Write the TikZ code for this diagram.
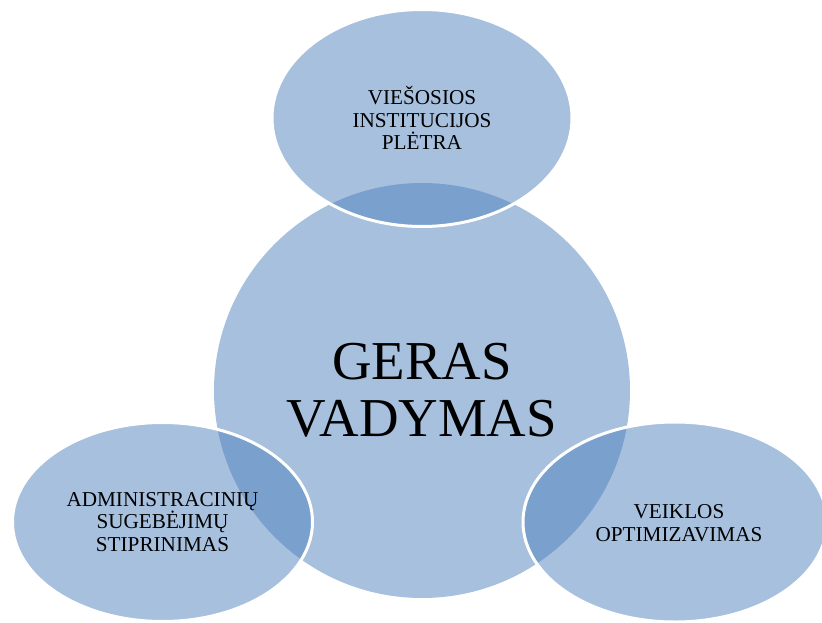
\documentclass[tikz,border=0pt]{standalone}
\usepackage{fontspec}
\setmainfont{Liberation Serif}
\usetikzlibrary{shapes.geometric}
\definecolor{accent}{HTML}{4F81BD}
\tikzset{
  bubble/.style={ellipse, inner sep=0pt, fill=accent, fill opacity=0.5, text opacity=1,
    text=black, align=center},
  sat/.style={bubble, draw=white, line width=3pt, minimum width=300pt,
    font=\fontsize{21.2}{22.5}\selectfont},
}
\begin{document}
\begin{tikzpicture}[x=1pt,y=-1pt]
\useasboundingbox (0,0) rectangle (822,623);
\clip (0,0) rectangle (822,623);
\node[bubble, minimum width=416pt, minimum height=415pt,
  font=\fontsize{54.8}{57}\selectfont] (core) at (422,390.5) {GERAS\\VADYMAS};
\node[sat, minimum height=217pt] (top) at (422,118) {VIEŠOSIOS\\INSTITUCIJOS\\PLĖTRA};
\node[sat, minimum height=199pt] (left) at (162.5,522) {ADMINISTRACINIŲ\\SUGEBĖJIMŲ\\STIPRINIMAS};
\node[sat, minimum width=304pt, minimum height=200pt] (right) at (675,522) {};
\node[font=\fontsize{21.2}{22.5}\selectfont, align=center, inner sep=0pt] (rightlabel) at (679,523) {VEIKLOS\\OPTIMIZAVIMAS};
\end{tikzpicture}
\end{document}
